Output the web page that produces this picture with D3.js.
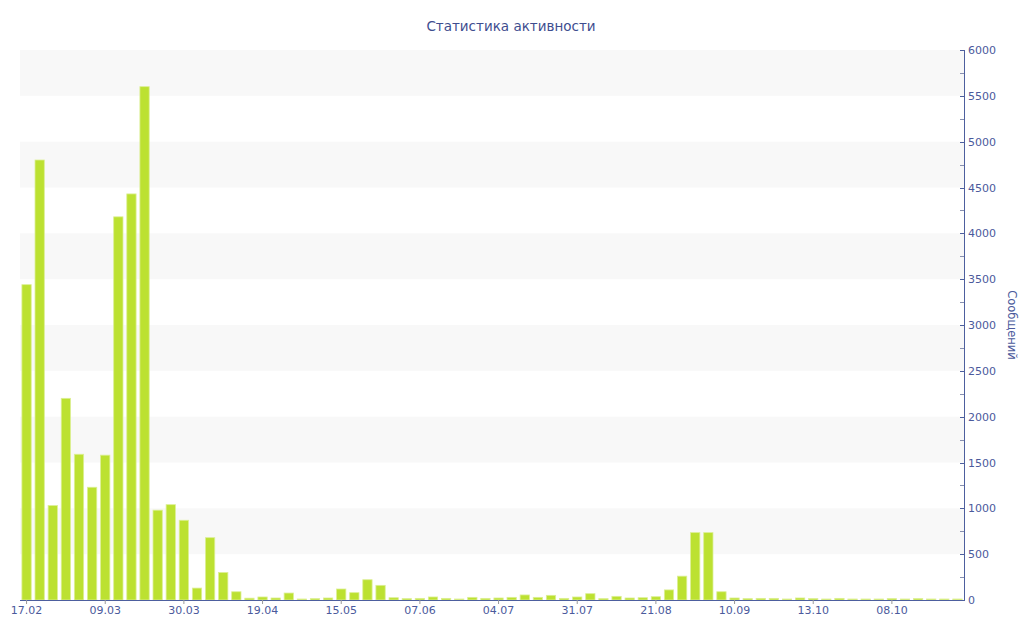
<!DOCTYPE html>
<html>
<head>
<meta charset="utf-8">
<script src="https://cdn.jsdelivr.net/npm/d3@7/dist/d3.min.js"></script>
<style>
  body { margin: 0; background: #fff; }
  svg { display: block; font-family: "DejaVu Sans", Verdana, sans-serif; }
</style>
</head>
<body>
<svg id="chart" width="1024" height="640"></svg>
<script>
// ---- Data ----
const title = "Статистика активности";
const yTitle = "Сообщений";
const values = [
  3440, 4800, 1030, 2200, 1590, 1230, 1580, 4180, 4430, 5600,
  980, 1040, 870, 130, 680, 300, 90, 20, 33, 22,
  76, 11, 15, 22, 120, 80, 221, 160, 25, 15,
  18, 33, 18, 11, 29, 18, 22, 29, 55, 29,
  51, 18, 33, 69, 15, 40, 22, 25, 36, 110,
  260, 735, 735, 90, 22, 15, 18, 18, 11, 22,
  15, 11, 18, 11, 11, 11, 15, 11, 15, 11,
  11, 11
];
const categories = values.map((d, i) => i);
const tickIndexes = [0, 6, 12, 18, 24, 30, 36, 42, 48, 54, 60, 66];
const tickLabels = ["17.02", "09.03", "30.03", "19.04", "15.05", "07.06", "04.07", "31.07", "21.08", "10.09", "13.10", "08.10"];
const yTicks = [0, 500, 1000, 1500, 2000, 2500, 3000, 3500, 4000, 4500, 5000, 5500, 6000];

// ---- Layout ----
const svg = d3.select("#chart");
const pLeft = 20, pRight = 964, pTop = 50, pBottom = 600;
const axisColor = "#4d5f9e";
const textColor = "#4b5a9c";

const x = d3.scaleBand().domain(categories).range([pLeft, pRight]).paddingInner(0.29).paddingOuter(0.145);
const y = d3.scaleLinear().domain([0, 6000]).range([pBottom, pTop]);

// alternate bands
const bands = yTicks.slice(0, -1).filter((d, i) => i % 2 === 1);
svg.append("g").selectAll("rect").data(bands).join("rect")
  .attr("x", pLeft).attr("width", pRight - pLeft)
  .attr("y", d => y(d + 500)).attr("height", d => y(d) - y(d + 500))
  .attr("fill", "#f8f8f8");

// bars
svg.append("g").selectAll("rect").data(values).join("rect")
  .attr("x", (d, i) => x(categories[i]))
  .attr("width", x.bandwidth())
  .attr("y", d => y(d))
  .attr("height", d => pBottom - y(d))
  .attr("fill", "#bce131")
  .attr("stroke", "#dcef95")
  .attr("stroke-width", 0.8);

// x axis
const xAxis = d3.axisBottom(x)
  .tickValues(tickIndexes)
  .tickFormat((d) => tickLabels[tickIndexes.indexOf(d)])
  .tickSize(4).tickSizeOuter(0);
const gx = svg.append("g").attr("transform", `translate(0,${pBottom})`).call(xAxis);
gx.select(".domain").attr("stroke", axisColor).attr("d", `M${pLeft},0.5H${pRight}`);
gx.selectAll(".tick line").attr("stroke", "#999");
gx.selectAll(".tick text").attr("fill", textColor).attr("font-size", 11).attr("dy", "0.65em")
  .attr("font-family", "DejaVu Sans, sans-serif");

// y axis (right)
const yAxis = d3.axisRight(y).tickValues(yTicks).tickFormat(d3.format("d"))
  .tickSize(0).tickPadding(4).tickSizeOuter(0);
const gy = svg.append("g").attr("transform", `translate(${pRight},0)`).call(yAxis);
gy.select(".domain").attr("stroke", axisColor);
gy.selectAll(".tick text").attr("fill", textColor).attr("font-size", 11)
  .attr("font-family", "DejaVu Sans, sans-serif");
// major/minor tick marks
const minor = d3.range(0, 6001, 250);
gy.append("g").selectAll("line").data(minor).join("line")
  .attr("x1", -4).attr("x2", d => d % 500 === 0 ? 1 : 0)
  .attr("y1", d => Math.round(y(d)) + 0.5).attr("y2", d => Math.round(y(d)) + 0.5)
  .attr("stroke", d => d % 500 === 0 ? axisColor : "#8890b0");

// titles
svg.append("text").attr("x", 511).attr("y", 31).attr("text-anchor", "middle")
  .attr("fill", "#3e4d8f").attr("font-size", 13.5).text(title);
svg.append("text").attr("transform", `translate(1008,325) rotate(90)`)
  .attr("text-anchor", "middle").attr("fill", textColor).attr("font-size", 11.5).text(yTitle);
</script>
</body>
</html>
